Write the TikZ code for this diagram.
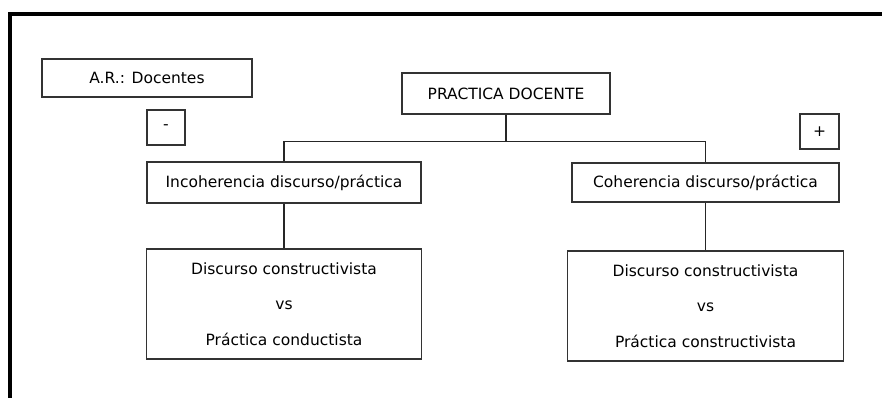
\documentclass[tikz,border=0pt]{standalone}
\usepackage{fontspec}
\setmainfont{DejaVu Sans}
\usetikzlibrary{positioning}

\begin{document}
\begin{tikzpicture}[
  x=1pt, y=-1pt,
  box/.style={rectangle, draw=black!80, line width=1.5pt, inner sep=0pt,
    font=\fontsize{15.5}{35.5}\selectfont, align=center},
  link/.style={draw=black!85, line width=1.4pt}
]
\useasboundingbox (0,0) rectangle (882,398);
% marco
\draw[line width=4pt] (10.3,398) -- (10.3,14) -- (882,14);

\node [box, minimum width=210pt, minimum height=38pt] (ar) at (147,78) {A.R.: Docentes};
\node [box, minimum width=38pt, minimum height=35pt] (menos) at (166,127.5) {-};
\node [box, minimum width=39pt, minimum height=35pt] (mas) at (819.5,131.5) {+};
\node [box, minimum width=208pt, minimum height=41pt] (practica) at (506,93.5) {PRACTICA DOCENTE};
\node [box, minimum width=274pt, minimum height=41pt] (incoh) at (284,182.5) {Incoherencia discurso/práctica};
\node [box, minimum width=267pt, minimum height=39pt] (coh) at (705.5,182.5) {Coherencia discurso/práctica};
\node [box, minimum width=275pt, minimum height=110pt] (conduct) at (284,304)
  {Discurso constructivista\\vs\\Práctica conductista};
\node [box, minimum width=276pt, minimum height=110pt] (construct) at (705.5,306)
  {Discurso constructivista\\vs\\Práctica constructivista};

\draw[link] (practica.south) -- ++(0,27) coordinate (split);
\draw[link] (incoh.north) |- (split) -| (coh.north);
\draw[link] (incoh.south) -- (conduct.north);
\draw[link] (coh.south) -- (construct.north);
\end{tikzpicture}
\end{document}
